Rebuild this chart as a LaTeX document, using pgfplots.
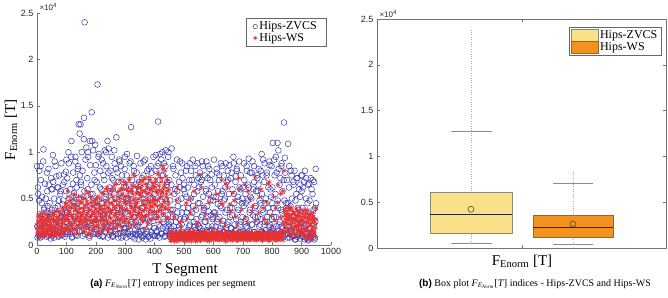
\documentclass[border=0pt]{standalone}
\usepackage{fontspec}
\setmainfont{Liberation Serif}
\newfontfamily\sansf{Liberation Sans}
\usepackage{pgfplots}
\pgfplotsset{compat=1.18}
\definecolor{zblue}{RGB}{55,55,175}
\definecolor{wred}{RGB}{232,48,48}
\definecolor{ylw}{RGB}{251,224,138}
\definecolor{org}{RGB}{242,146,32}
\definecolor{orgedge}{RGB}{165,95,30}
\definecolor{ylwedge}{RGB}{140,135,120}
\definecolor{meanc}{RGB}{95,75,35}
\pgfplotsset{
  mystyle/.style={
    scale only axis, anchor=south west,
    ymin=0, ymax=2.5, ytick={0,0.5,1,1.5,2,2.5}, yticklabels={0,0.5,1,1.5,2,2.5},
    tick align=inside, major tick length=3pt,
    tick style={black!55, line width=0.4pt},
    axis line style={black!55, line width=0.5pt},
    ticklabel style={font=\sansf\fontsize{9}{10}\selectfont, text=black!85},
    /pgf/number format/assume math mode=true,
    /pgf/number format/1000 sep={},
  },
  bz/.style={only marks, mark=o, mark size=2.9pt, draw=zblue, line width=0.5pt},
  rw/.style={only marks, mark=asterisk, mark size=2.5pt, draw=wred, line width=0.6pt},
}
\begin{document}
\begin{tikzpicture}[x=1pt,y=1pt]
\path[use as bounding box] (0,0) rectangle (668,297);
\begin{axis}[mystyle, at={(37pt,52pt)}, width=294pt, height=232pt,
  xmin=0, xmax=1000, xtick={0,100,...,1000},
  axis x line*=bottom, axis y line*=left, clip=false,
  legend style={at={(0.983,0.978)}, anchor=north east, font=\fontsize{12}{13}\selectfont,
    draw=black!60, inner xsep=7pt, inner ysep=1.5pt, row sep=-2pt, cells={anchor=west}},
  legend image post style={mark size=2.2pt}]
\addplot[bz]
 table[row sep=\\, header=false, x expr=\coordindex*2, y expr=\thisrowno{0}/100] {
85\\8\\55\\12\\80\\22\\85\\25\\45\\9\\11\\103\\38\\15\\30\\50\\20\\78\\42\\10\\65\\28\\13\\35\\72\\
18\\60\\97\\12\\8\\90\\40\\25\\74\\33\\14\\62\\48\\10\\22\\58\\30\\11\\44\\65\\16\\76\\9\\35\\79\\
92\\35\\20\\14\\88\\50\\12\\28\\95\\42\\9\\66\\18\\56\\30\\90\\11\\70\\24\\45\\85\\130\\15\\75\\130\\
65\\100\\28\\10\\52\\137\\240\\22\\40\\105\\14\\60\\95\\33\\8\\112\\55\\18\\143\\112\\48\\12\\30\\70\\108\\
86\\12\\42\\173\\25\\98\\10\\62\\35\\18\\92\\45\\9\\75\\28\\102\\14\\55\\85\\20\\112\\38\\104\\11\\58\\
80\\15\\95\\32\\9\\70\\45\\88\\20\\12\\116\\40\\78\\8\\55\\92\\25\\13\\85\\30\\50\\68\\10\\18\\82\\
35\\62\\8\\98\\14\\50\\20\\58\\10\\90\\127\\25\\42\\12\\30\\80\\7\\16\\65\\11\\96\\38\\22\\6\\60\\
12\\88\\15\\40\\8\\28\\75\\10\\45\\92\\6\\30\\14\\58\\9\\82\\20\\65\\7\\35\\78\\11\\50\\95\\18\\
55\\10\\97\\30\\14\\85\\133\\22\\8\\98\\40\\12\\75\\100\\18\\28\\88\\9\\50\\102\\15\\65\\25\\95\\11\\
70\\12\\38\\18\\104\\9\\30\\82\\15\\10\\60\\25\\7\\92\\35\\48\\13\\20\\62\\8\\78\\22\\88\\14\\40\\
65\\10\\30\\12\\52\\85\\16\\40\\8\\70\\22\\11\\80\\15\\35\\92\\9\\55\\20\\10\\75\\28\\13\\88\\45\\
62\\14\\78\\18\\9\\70\\32\\85\\12\\40\\25\\10\\58\\90\\16\\72\\8\\36\\82\\15\\48\\11\\76\\20\\30\\
52\\92\\12\\35\\20\\9\\78\\28\\58\\10\\75\\15\\42\\8\\55\\85\\22\\14\\48\\11\\62\\88\\18\\38\\7\\
70\\13\\86\\30\\9\\18\\78\\40\\12\\95\\55\\22\\10\\74\\16\\82\\35\\8\\48\\90\\14\\60\\25\\11\\50\\
62\\10\\88\\25\\12\\45\\20\\80\\8\\65\\93\\15\\38\\52\\9\\78\\22\\11\\60\\85\\14\\30\\42\\10\\75\\
58\\12\\82\\20\\9\\45\\28\\98\\14\\75\\35\\8\\88\\16\\50\\10\\78\\25\\40\\11\\90\\22\\60\\13\\85\\
45\\110\\15\\30\\75\\10\\95\\20\\12\\110\\40\\82\\8\\25\\72\\14\\88\\35\\18\\9\\132\\48\\78\\11\\40\\
70\\8\\109\\20\\85\\12\\42\\15\\75\\9\\30\\68\\10\\80\\22\\6\\55\\14\\72\\11\\38\\18\\7\\65\\25\\
58\\75\\9\\20\\68\\6\\35\\12\\72\\8\\45\\5\\18\\66\\10\\30\\7\\60\\14\\70\\9\\22\\6\\40\\82\\
};
\addlegendentry{Hips-ZVCS}
\addplot[bz, forget plot]
 table[row sep=\\, header=false, x expr=\coordindex*2+1, y expr=\thisrowno{0}/100] {
20\\62\\10\\48\\33\\8\\70\\15\\52\\28\\90\\12\\40\\66\\18\\35\\9\\58\\25\\82\\14\\45\\30\\7\\60\\
38\\10\\68\\22\\50\\12\\85\\30\\16\\62\\42\\9\\75\\26\\55\\14\\88\\35\\11\\48\\20\\68\\32\\12\\58\\
25\\72\\14\\100\\40\\18\\60\\30\\112\\8\\52\\78\\22\\45\\15\\95\\35\\62\\10\\82\\28\\50\\120\\20\\68\\
42\\15\\80\\30\\114\\58\\12\\92\\38\\20\\72\\100\\25\\48\\10\\86\\35\\65\\18\\55\\102\\28\\78\\14\\45\\
22\\68\\38\\12\\95\\50\\28\\80\\15\\60\\40\\10\\88\\32\\70\\18\\52\\100\\25\\45\\8\\78\\35\\62\\14\\
48\\20\\72\\10\\60\\35\\102\\15\\50\\82\\25\\40\\12\\68\\30\\90\\18\\56\\8\\75\\38\\22\\62\\14\\95\\
18\\50\\75\\28\\12\\65\\40\\88\\15\\55\\22\\70\\9\\45\\85\\30\\60\\12\\38\\78\\20\\52\\14\\68\\32\\
58\\25\\10\\72\\40\\16\\90\\35\\55\\12\\68\\28\\80\\45\\9\\62\\20\\50\\85\\14\\38\\70\\26\\10\\60\\
30\\80\\15\\62\\45\\10\\88\\35\\70\\20\\55\\92\\12\\40\\75\\25\\60\\10\\85\\48\\18\\68\\32\\100\\22\\
15\\48\\25\\65\\10\\38\\85\\20\\55\\12\\75\\30\\9\\58\\42\\16\\68\\28\\90\\12\\50\\35\\72\\8\\60\\
28\\55\\9\\80\\35\\14\\62\\45\\20\\88\\12\\50\\30\\70\\10\\42\\25\\65\\16\\85\\38\\11\\58\\22\\72\\
20\\45\\12\\68\\30\\90\\15\\52\\38\\10\\75\\25\\60\\14\\42\\85\\20\\55\\9\\70\\32\\16\\62\\28\\48\\
35\\15\\65\\10\\52\\82\\25\\44\\12\\70\\30\\18\\88\\40\\10\\58\\26\\75\\14\\50\\35\\9\\68\\22\\80\\
25\\55\\12\\40\\72\\18\\32\\60\\10\\88\\45\\15\\68\\28\\80\\12\\52\\38\\9\\62\\22\\75\\14\\45\\30\\
15\\42\\70\\10\\55\\28\\85\\18\\48\\12\\62\\35\\78\\9\\50\\22\\90\\32\\14\\68\\40\\10\\58\\25\\72\\
30\\65\\10\\48\\22\\80\\14\\55\\38\\92\\12\\68\\25\\45\\16\\75\\30\\10\\62\\20\\86\\35\\14\\52\\28\\
62\\18\\40\\92\\12\\55\\30\\78\\15\\48\\102\\22\\65\\10\\38\\85\\20\\58\\12\\70\\28\\94\\16\\45\\30\\
12\\45\\25\\62\\8\\35\\80\\15\\50\\22\\10\\65\\30\\6\\48\\18\\72\\9\\40\\28\\60\\12\\52\\20\\75\\
10\\40\\62\\15\\28\\80\\8\\50\\22\\12\\65\\35\\6\\48\\18\\72\\10\\30\\55\\12\\38\\68\\8\\25\\45\\
};
\addplot[rw]
 table[row sep=\\, header=false, x expr=\coordindex*2, y expr=\thisrowno{0}/100] {
22\\15\\30\\12\\25\\18\\33\\10\\21\\27\\14\\19\\35\\11\\24\\17\\29\\13\\20\\26\\16\\31\\9\\23\\18\\
21\\12\\28\\17\\34\\10\\25\\19\\30\\14\\22\\37\\16\\27\\11\\33\\20\\24\\13\\29\\38\\18\\26\\15\\41\\
45\\28\\58\\19\\36\\24\\47\\15\\32\\41\\22\\30\\50\\17\\38\\27\\44\\12\\35\\29\\48\\21\\39\\26\\33\\
40\\18\\31\\52\\25\\36\\14\\43\\29\\22\\47\\34\\19\\56\\27\\38\\11\\32\\45\\24\\41\\16\\35\\28\\49\\
30\\21\\44\\13\\37\\26\\50\\18\\33\\42\\15\\28\\39\\23\\55\\31\\20\\46\\35\\62\\24\\40\\17\\36\\58\\
29\\45\\12\\38\\52\\26\\41\\65\\19\\34\\48\\30\\57\\22\\43\\36\\70\\27\\50\\15\\39\\61\\33\\46\\24\\
53\\37\\66\\28\\45\\58\\20\\49\\72\\35\\42\\60\\31\\55\\76\\26\\47\\38\\63\\44\\22\\57\\50\\34\\68\\
40\\61\\29\\52\\70\\36\\47\\18\\58\\43\\66\\32\\55\\25\\49\\73\\38\\60\\45\\27\\54\\41\\67\\35\\50\\
62\\44\\71\\30\\56\\48\\78\\36\\59\\25\\52\\68\\41\\57\\85\\33\\63\\46\\80\\39\\55\\28\\70\\43\\60\\
8\\12\\5\\55\\10\\6\\14\\9\\30\\4\\11\\7\\13\\62\\8\\5\\12\\10\\6\\25\\9\\14\\7\\11\\5\\
10\\6\\13\\8\\45\\4\\12\\9\\7\\15\\11\\35\\5\\8\\13\\6\\10\\58\\7\\12\\4\\9\\22\\11\\6\\
13\\8\\76\\5\\10\\7\\12\\40\\6\\9\\14\\5\\11\\8\\28\\12\\6\\10\\4\\52\\9\\13\\7\\11\\8\\
5\\12\\9\\33\\7\\10\\14\\6\\11\\48\\8\\5\\13\\9\\70\\6\\12\\10\\7\\20\\11\\4\\14\\8\\62\\
9\\6\\12\\44\\10\\7\\13\\5\\56\\11\\8\\14\\6\\30\\10\\12\\5\\9\\72\\7\\13\\11\\6\\38\\8\\
12\\5\\10\\8\\65\\14\\6\\11\\24\\9\\7\\13\\50\\5\\10\\8\\12\\42\\6\\11\\9\\74\\7\\13\\5\\
10\\8\\35\\12\\6\\9\\60\\11\\5\\13\\7\\28\\10\\8\\14\\46\\6\\12\\9\\5\\68\\11\\7\\13\\20\\
8\\12\\52\\6\\10\\7\\40\\13\\5\\9\\65\\11\\7\\14\\30\\6\\10\\8\\58\\12\\80\\25\\38\\15\\32\\
22\\35\\14\\28\\41\\18\\31\\10\\25\\37\\16\\29\\20\\34\\12\\27\\39\\19\\32\\23\\15\\36\\26\\13\\30\\
21\\33\\11\\26\\38\\16\\29\\8\\24\\35\\18\\30\\13\\27\\6\\22\\34\\10\\28\\19\\31\\15\\25\\9\\40\\
};
\addlegendentry{Hips-WS}
\addplot[rw, forget plot]
 table[row sep=\\, header=false, x expr=\coordindex*2+1, y expr=\thisrowno{0}/100] {
18\\26\\13\\32\\20\\9\\28\\16\\24\\11\\30\\19\\14\\27\\22\\10\\33\\17\\25\\12\\29\\21\\15\\35\\19\\
27\\14\\32\\20\\11\\26\\18\\36\\13\\24\\30\\16\\22\\10\\35\\19\\28\\15\\40\\23\\12\\31\\18\\27\\44\\
32\\20\\52\\26\\40\\14\\35\\48\\22\\30\\18\\44\\28\\55\\24\\38\\16\\42\\30\\20\\52\\35\\25\\46\\28\\
22\\46\\35\\15\\50\\28\\40\\20\\58\\32\\26\\44\\12\\38\\30\\52\\24\\42\\18\\36\\48\\26\\33\\20\\45\\
38\\25\\52\\19\\34\\44\\12\\40\\30\\56\\22\\36\\48\\27\\18\\43\\33\\60\\26\\40\\15\\50\\30\\45\\22\\
36\\54\\24\\44\\18\\60\\32\\48\\26\\40\\66\\22\\52\\35\\28\\46\\60\\20\\42\\55\\30\\38\\68\\26\\48\\
44\\28\\60\\38\\52\\24\\70\\34\\46\\58\\30\\40\\64\\22\\50\\36\\74\\42\\28\\56\\46\\32\\62\\40\\54\\
56\\32\\48\\64\\26\\44\\58\\38\\72\\30\\50\\40\\62\\22\\46\\56\\34\\70\\42\\28\\60\\48\\36\\64\\44\\
48\\68\\36\\58\\42\\76\\30\\64\\50\\38\\72\\56\\44\\82\\34\\60\\48\\66\\40\\74\\52\\30\\58\\46\\38\\
10\\7\\14\\5\\9\\12\\35\\6\\11\\8\\13\\4\\48\\10\\7\\12\\9\\5\\14\\20\\8\\11\\6\\13\\9\\
7\\14\\10\\5\\12\\28\\8\\11\\6\\13\\9\\50\\4\\10\\12\\7\\15\\8\\40\\11\\5\\13\\9\\6\\24\\
11\\5\\9\\13\\62\\7\\10\\12\\6\\8\\15\\33\\9\\11\\5\\13\\7\\46\\10\\8\\12\\6\\14\\9\\18\\
9\\13\\6\\11\\8\\55\\12\\5\\10\\14\\7\\26\\9\\12\\6\\44\\11\\8\\13\\5\\10\\66\\7\\12\\9\\
12\\8\\10\\5\\36\\13\\9\\11\\6\\14\\48\\7\\10\\12\\5\\22\\9\\13\\8\\60\\11\\6\\10\\14\\7\\
6\\11\\13\\9\\30\\7\\12\\5\\10\\58\\8\\14\\6\\11\\9\\36\\13\\7\\10\\12\\5\\26\\9\\14\\8\\
13\\7\\10\\52\\6\\12\\9\\14\\5\\40\\11\\8\\13\\6\\24\\10\\12\\7\\66\\9\\5\\14\\11\\32\\8\\
10\\6\\14\\9\\26\\12\\5\\11\\8\\46\\13\\7\\10\\6\\55\\12\\9\\14\\5\\22\\35\\18\\28\\40\\24\\
30\\18\\26\\38\\14\\33\\22\\40\\16\\28\\12\\35\\24\\19\\32\\10\\27\\37\\15\\30\\21\\34\\17\\25\\13\\
26\\14\\36\\20\\30\\12\\33\\17\\25\\38\\10\\28\\21\\32\\7\\24\\15\\30\\11\\27\\35\\13\\22\\18\\28\\
};
\end{axis}
\begin{axis}[mystyle, at={(377pt,49pt)}, width=289pt, height=229pt,
  xmin=0, xmax=1, xtick={0.502}, xticklabels={},
  legend style={at={(0.983,0.965)}, anchor=north east, font=\fontsize{12}{13}\selectfont,
    draw=black!60, inner xsep=1.5pt, inner ysep=1pt, row sep=-1pt, cells={anchor=west}}]
\addplot[dotted, black!35, forget plot] coordinates {(0.325,0.047) (0.325,2.40)};
\addplot[dotted, black!35, forget plot] coordinates {(0.678,0.040) (0.678,0.845)};
\addplot[fill=ylw, draw=ylwedge, forget plot] coordinates {(0.183,0.160)(0.467,0.160)(0.467,0.609)(0.183,0.609)(0.183,0.160)};
\addplot[fill=org, draw=orgedge, forget plot] coordinates {(0.540,0.117)(0.817,0.117)(0.817,0.357)(0.540,0.357)(0.540,0.117)};
\addplot[black!85, line width=0.8pt, forget plot] coordinates {(0.183,0.368)(0.467,0.368)};
\addplot[black!85, line width=0.8pt, forget plot] coordinates {(0.540,0.226)(0.817,0.226)};
\addplot[black!45, forget plot] coordinates {(0.256,1.276)(0.398,1.276)};
\addplot[black!45, forget plot] coordinates {(0.256,0.047)(0.398,0.047)};
\addplot[black!45, forget plot] coordinates {(0.609,0.711)(0.747,0.711)};
\addplot[black!45, forget plot] coordinates {(0.609,0.040)(0.747,0.040)};
\addplot[only marks, mark=o, mark size=3pt, draw=meanc, line width=0.6pt, forget plot] coordinates {(0.325,0.423) (0.678,0.262)};
\addlegendimage{legend image code/.code={\draw[fill=ylw, draw=ylwedge] (0pt,-6pt) rectangle (27pt,6pt);}}
\addlegendentry{Hips-ZVCS}
\addlegendimage{legend image code/.code={\draw[fill=org, draw=orgedge] (0pt,-6pt) rectangle (27pt,6pt);}}
\addlegendentry{Hips-WS}
\end{axis}
\node[anchor=west, font=\sansf\fontsize{8}{9}\selectfont, text=black!85] at (36,290) {×10\textsuperscript{4}};
\node[anchor=west, font=\sansf\fontsize{8}{9}\selectfont, text=black!85] at (376,283) {×10\textsuperscript{4}};
\node[rotate=90, font=\fontsize{15}{16}\selectfont] at (11,167) {F\textsubscript{Enorm} [T]};
\node[font=\fontsize{15}{16}\selectfont] at (185,27) {T Segment};
\node[font=\fontsize{15}{16}\selectfont] at (522,36) {F\textsubscript{Enorm} [T]};
\node[font=\fontsize{10}{11}\selectfont] at (173,13) {{\sansf\bfseries (a)} \textit{F}\textsubscript{\textit{E}\textsubscript{\textit{Norm}}}[\textit{T}] entropy indices per segment};
\node[font=\fontsize{10}{11}\selectfont] at (535,13) {{\sansf\bfseries (b)} Box plot \textit{F}\textsubscript{\textit{E}\textsubscript{\textit{Norm}}}[\textit{T}] indices - Hips-ZVCS and Hips-WS};
\end{tikzpicture}
\end{document}
